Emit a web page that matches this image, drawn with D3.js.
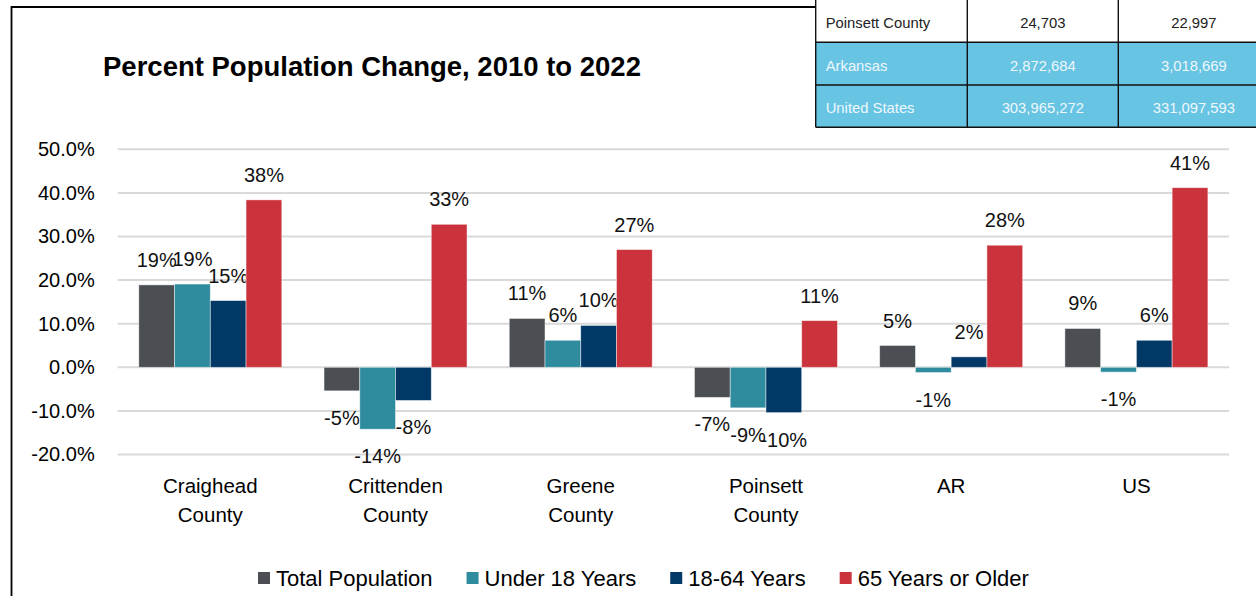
<!DOCTYPE html>
<html>
<head>
<meta charset="utf-8">
<script src="https://cdn.jsdelivr.net/npm/d3@7/dist/d3.min.js"></script>
<style>
  html, body { margin: 0; padding: 0; background: #fff; }
  svg { display: block; font-family: "Liberation Sans", Arial, sans-serif; }
</style>
</head>
<body>
<svg id="chart" width="1256" height="596"></svg>
<script>
// Percent change in population, 2010 to 2022, by age group
const categories = [["Craighead", "County"], ["Crittenden", "County"], ["Greene", "County"], ["Poinsett", "County"], ["AR"], ["US"]];
const seriesNames = ["Total Population", "Under 18 Years", "18-64 Years", "65 Years or Older"];
const totalPopulation = [18.9, -5.4, 11.2, -6.9, 5.0, 8.9];
const under18 = [19.1, -14.2, 6.2, -9.3, -1.2, -1.1];
const age18to64 = [15.3, -7.6, 9.6, -10.4, 2.4, 6.2];
const age65plus = [38.4, 32.8, 27.0, 10.7, 28.0, 41.2];
const yTicks = [-20, -10, 0, 10, 20, 30, 40, 50];

// Population counts table (partial rows)
const tableRows = ["Poinsett County", "Arkansas", "United States"];
const pop2010 = ["24,703", "2,872,684", "303,965,272"];
const pop2022 = ["22,997", "3,018,669", "331,097,593"];

const seriesValues = [totalPopulation, under18, age18to64, age65plus];
const colors = ["#4b4f54", "#2f8c9e", "#023866", "#ca333c"];

const fmtLocale = d3.formatLocale({decimal: ".", thousands: ",", grouping: [3], currency: ["$", ""], minus: "-"});
const tickFmt = fmtLocale.format(".1%");
const labelFmt = fmtLocale.format(".0%");

const svg = d3.select("#chart");
const labelFont = "'Liberation Sans', Arial, sans-serif";

// Outer frame
svg.append("path")
  .attr("d", "M11.5,596 V7 H816")
  .attr("fill", "none").attr("stroke", "#000").attr("stroke-width", 1.8);

// Title
svg.append("text")
  .attr("x", 103).attr("y", 76)
  .attr("font-size", 27.5).attr("font-weight", "bold").attr("fill", "#000")
  .text("Percent Population Change, 2010 to 2022");

// Scales
const x0 = d3.scaleBand()
  .domain(d3.range(categories.length))
  .range([117.7, 1229])
  .paddingInner(0.228)
  .paddingOuter(0.114);
const x1 = d3.scaleBand()
  .domain(d3.range(seriesNames.length))
  .range([0, x0.bandwidth()])
  .padding(0);
const y = d3.scaleLinear().domain([-20, 50]).range([454.5, 149.3]);

// Gridlines
svg.append("g").selectAll("line")
  .data(yTicks)
  .join("line")
  .attr("x1", 117.7).attr("x2", 1229)
  .attr("y1", d => y(d)).attr("y2", d => y(d))
  .attr("stroke", "#d9d9d9").attr("stroke-width", 2);

// Y axis labels
const yAxis = svg.append("g")
  .attr("transform", "translate(117.7,0)")
  .call(d3.axisLeft(y).tickValues(yTicks).tickFormat(d => tickFmt(d / 100)).tickSize(0).tickPadding(23));
yAxis.select(".domain").remove();
yAxis.selectAll("text")
  .attr("font-size", 20).attr("font-family", labelFont).attr("fill", "#000");

// Bars
const groups = svg.append("g").selectAll("g")
  .data(categories.map((c, i) => i))
  .join("g")
  .attr("transform", i => `translate(${x0(i)},0)`);

const cells = groups.selectAll("g.cell")
  .data(i => seriesValues.map((vals, s) => ({s, v: vals[i]})))
  .join("g").attr("class", "cell");

cells.append("rect")
  .attr("x", d => x1(d.s))
  .attr("width", x1.bandwidth())
  .attr("y", d => y(Math.max(0, d.v)))
  .attr("height", d => Math.abs(y(d.v) - y(0)))
  .attr("fill", d => colors[d.s])
  .attr("stroke", "rgba(255,255,255,0.55)").attr("stroke-width", 0.8);

// Value labels
cells.append("text")
  .attr("x", d => x1(d.s) + x1.bandwidth() / 2)
  .attr("y", d => d.v >= 0 ? y(d.v) - 18 : y(d.v) + 34)
  .attr("text-anchor", "middle")
  .attr("font-size", 20).attr("fill", "#111")
  .text(d => labelFmt(d.v / 100));

// Category labels
const catLabels = svg.append("g").selectAll("text")
  .data(categories)
  .join("text")
  .attr("x", (c, i) => x0(i) + x0.bandwidth() / 2)
  .attr("y", 493)
  .attr("text-anchor", "middle")
  .attr("font-size", 20.5).attr("fill", "#000");
catLabels.selectAll("tspan")
  .data(c => c)
  .join("tspan")
  .attr("x", function () { return this.parentNode.getAttribute("x"); })
  .attr("dy", (d, j) => j === 0 ? 0 : 29)
  .text(d => d);

// Legend
const legend = svg.append("g").attr("transform", "translate(258,0)");
let lx = 0;
seriesNames.forEach((name, s) => {
  legend.append("rect")
    .attr("x", lx).attr("y", 572).attr("width", 12).attr("height", 12)
    .attr("fill", colors[s]);
  const t = legend.append("text")
    .attr("x", lx + 18).attr("y", 586)
    .attr("font-size", 22).attr("fill", "#000")
    .text(name);
  lx += 18 + t.node().getComputedTextLength() + 34;
});

// Population table in the top-right corner
const colEdges = [815.7, 967.3, 1118.3, 1269.5];
const rowEdges = [-1, 42.3, 85, 127.3];
const table = svg.append("g");
tableRows.forEach((r, i) => {
  table.append("rect")
    .attr("x", colEdges[0]).attr("y", rowEdges[i])
    .attr("width", colEdges[3] - colEdges[0]).attr("height", rowEdges[i + 1] - rowEdges[i])
    .attr("fill", i === 0 ? "#ffffff" : "#67c4e3");
  const cy = (rowEdges[i] + rowEdges[i + 1]) / 2 + 7;
  const tc = i === 0 ? "#222" : "#eef8fc";
  table.append("text")
    .attr("x", colEdges[0] + 10).attr("y", cy)
    .attr("font-size", 14.8).attr("fill", tc).text(r);
  [pop2010[i], pop2022[i]].forEach((v, k) => {
    table.append("text")
      .attr("x", (colEdges[k + 1] + colEdges[k + 2]) / 2).attr("y", cy)
      .attr("text-anchor", "middle")
      .attr("font-size", 14.8).attr("fill", tc).text(v);
  });
});
// Table grid lines
rowEdges.slice(1).forEach(ry => {
  table.append("line")
    .attr("x1", colEdges[0]).attr("x2", colEdges[3])
    .attr("y1", ry).attr("y2", ry)
    .attr("stroke", "#111").attr("stroke-width", 1.4);
});
colEdges.slice(0, 3).forEach(cx => {
  table.append("line")
    .attr("x1", cx).attr("x2", cx)
    .attr("y1", 0).attr("y2", rowEdges[3])
    .attr("stroke", "#111").attr("stroke-width", 1.4);
});
</script>
</body>
</html>
